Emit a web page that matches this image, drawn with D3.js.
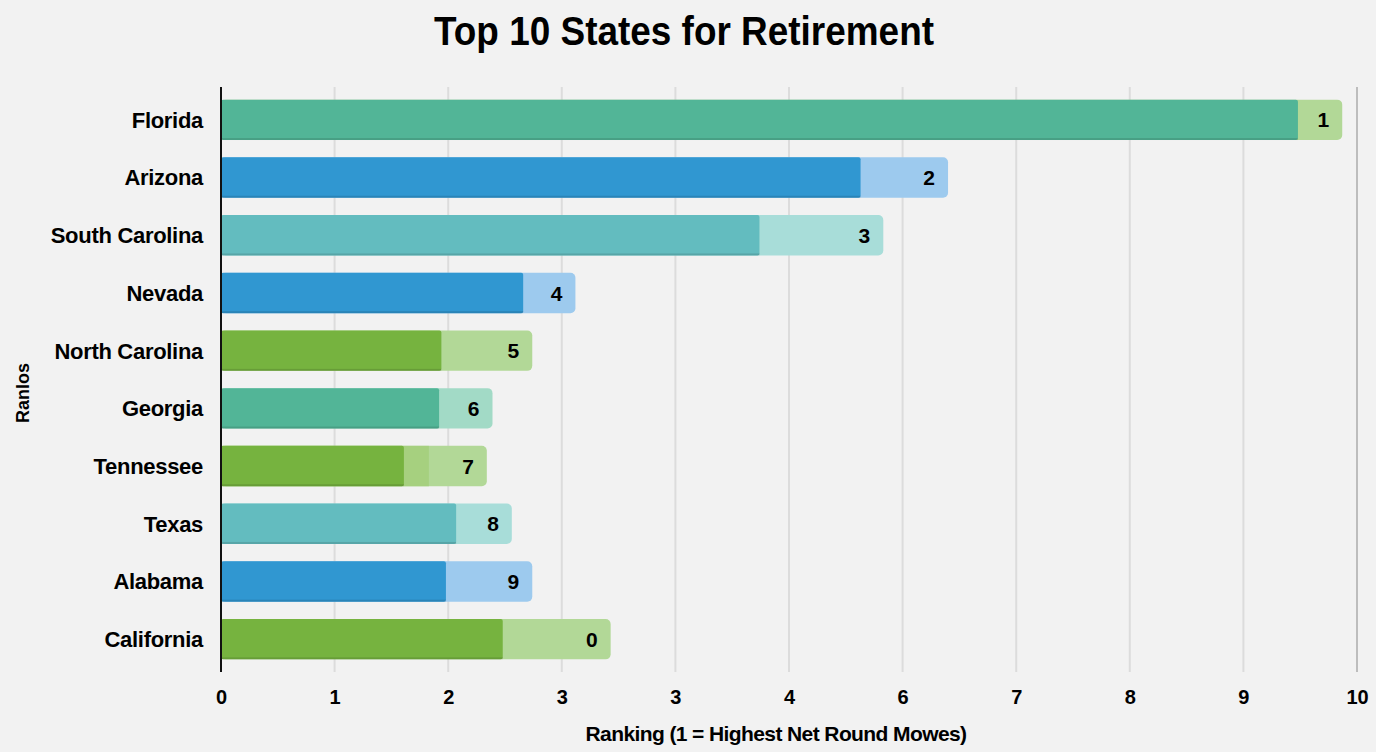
<!DOCTYPE html>
<meta charset="utf-8">
<style>
body { margin: 0; background: #f2f2f2; }
svg { display: block; font-family: "Liberation Sans", Arial, sans-serif; }
.axis .domain { display: none; }
.axis text { font-weight: 700; fill: #000; }
.state-label { font-weight: 700; font-size: 22px; letter-spacing: -0.3px; }
.rank-label { font-weight: 700; font-size: 21px; }
</style>
<body>
<script src="https://cdn.jsdelivr.net/npm/d3@7"></script>
<script>
// chart values
var states = ['Florida', 'Arizona', 'South Carolina', 'Nevada', 'North Carolina',
    'Georgia', 'Tennessee', 'Texas', 'Alabama', 'California']
var baseValues = [9.48, 5.63, 4.74, 2.66, 1.94, 1.92, 1.61, 2.07, 1.98, 2.48]
var midValues = [null, null, null, null, null, null, 1.83, null, null, null]
var totalValues = [9.87, 6.40, 5.83, 3.12, 2.74, 2.39, 2.34, 2.56, 2.74, 3.43]
var rankLabels = ['1', '2', '3', '4', '5', '6', '7', '8', '9', '0']
var darkGroups = ['teal', 'blue', 'aqua', 'blue', 'green', 'teal', 'green', 'aqua', 'blue', 'green']
var lightGroups = ['green', 'blue', 'aqua', 'blue', 'green', 'mint', 'green', 'aqua', 'blue', 'green']
var tickValues = [0, 1, 2, 3, 4, 5, 6, 7, 8, 9, 10]
var tickLabels = ['0', '1', '2', '3', '3', '4', '6', '7', '8', '9', '10']

var darkColor = d3.scaleOrdinal()
    .domain(['teal', 'blue', 'aqua', 'green'])
    .range(['#52b597', '#3097d1', '#63bcbf', '#76b33f'])
var lightColor = d3.scaleOrdinal()
    .domain(['green', 'blue', 'aqua', 'mint'])
    .range(['#b2d897', '#9dcaee', '#a8ddd9', '#a2dac6'])

var W = 1376, H = 752
var margin = { top: 87, right: 19, bottom: 80, left: 221 }
var width = W - margin.left - margin.right
var height = H - margin.top - margin.bottom

var rows = states.map(function (s, i) {
    return { state: s, base: baseValues[i], mid: midValues[i], total: totalValues[i],
        rank: rankLabels[i], dark: darkGroups[i], light: lightGroups[i] }
})

var svg = d3.select('body').append('svg')
    .attr('width', W)
    .attr('height', H)

svg.append('text')
    .attr('x', 684)
    .attr('y', 45)
    .attr('text-anchor', 'middle')
    .style('font-size', '40px')
    .style('font-weight', 700)
    .attr('textLength', 500)
    .attr('lengthAdjust', 'spacingAndGlyphs')
    .text('Top 10 States for Retirement')

var g = svg.append('g')
    .attr('transform', 'translate(' + margin.left + ',' + margin.top + ')')

var x = d3.scaleLinear()
    .domain([0, 10])
    .range([0, 1136])

var y = d3.scaleBand()
    .domain(states)
    .range([4, 581])
    .paddingInner(0.3)
    .paddingOuter(0.15)

// gridlines
g.append('g')
    .selectAll('line')
    .data(tickValues.slice(1))
    .enter().append('line')
    .attr('x1', function (d) { return x(d) })
    .attr('x2', function (d) { return x(d) })
    .attr('y1', 0)
    .attr('y2', height)
    .attr('stroke', function (d) { return d === 10 ? '#bdbdbd' : '#dcdcdc' })
    .attr('stroke-width', 2)

var xAxis = d3.axisBottom(x)
    .tickValues(tickValues)
    .tickSize(0)
    .tickPadding(18)
    .tickFormat(function (d, i) { return tickLabels[i] })

g.append('g')
    .attr('class', 'axis')
    .attr('transform', 'translate(0,' + height + ')')
    .call(xAxis)
    .selectAll('text')
    .style('font-size', '20px')

var bars = g.selectAll('.bar')
    .data(rows)
    .enter().append('g')
    .attr('class', 'bar')
    .attr('transform', function (d) { return 'translate(0,' + y(d.state) + ')' })

bars.append('rect')
    .attr('x', 0)
    .attr('width', function (d) { return x(d.total) })
    .attr('height', y.bandwidth())
    .attr('rx', 5)
    .attr('fill', function (d) { return lightColor(d.light) })

bars.filter(function (d) { return d.mid != null })
    .append('rect')
    .attr('x', 0)
    .attr('width', function (d) { return x(d.mid) })
    .attr('height', y.bandwidth())
    .attr('fill', '#a6d07f')

bars.append('rect')
    .attr('x', 0)
    .attr('width', function (d) { return x(d.base) })
    .attr('height', y.bandwidth())
    .attr('rx', 2)
    .attr('fill', function (d) { return darkColor(d.dark) })

// darker bottom edge on the main segment
bars.append('rect')
    .attr('x', 0)
    .attr('y', y.bandwidth() - 2)
    .attr('width', function (d) { return x(d.base) })
    .attr('height', 2)
    .attr('fill', '#000')
    .attr('opacity', 0.12)

bars.append('text')
    .attr('class', 'rank-label')
    .attr('x', function (d) { return x(d.total) - 13 })
    .attr('y', y.bandwidth() / 2)
    .attr('dy', '0.36em')
    .attr('text-anchor', 'end')
    .text(function (d) { return d.rank })

// category labels
g.selectAll('.state-label')
    .data(rows)
    .enter().append('text')
    .attr('class', 'state-label')
    .attr('x', -18)
    .attr('y', function (d) { return y(d.state) + y.bandwidth() / 2 })
    .attr('dy', '0.36em')
    .attr('text-anchor', 'end')
    .text(function (d) { return d.state })

// y axis line
g.append('line')
    .attr('x1', 0).attr('x2', 0)
    .attr('y1', 0).attr('y2', height)
    .attr('stroke', '#111')
    .attr('stroke-width', 2)

svg.append('text')
    .attr('x', 776)
    .attr('y', 741)
    .attr('text-anchor', 'middle')
    .style('font-size', '21px')
    .style('font-weight', 700)
    .style('letter-spacing', '-0.6px')
    .text('Ranking (1 = Highest Net Round Mowes)')

svg.append('text')
    .attr('transform', 'translate(29,393) rotate(-90)')
    .attr('text-anchor', 'middle')
    .style('font-size', '18px')
    .style('font-weight', 700)
    .text('Ranlos')
</script>
</body>
